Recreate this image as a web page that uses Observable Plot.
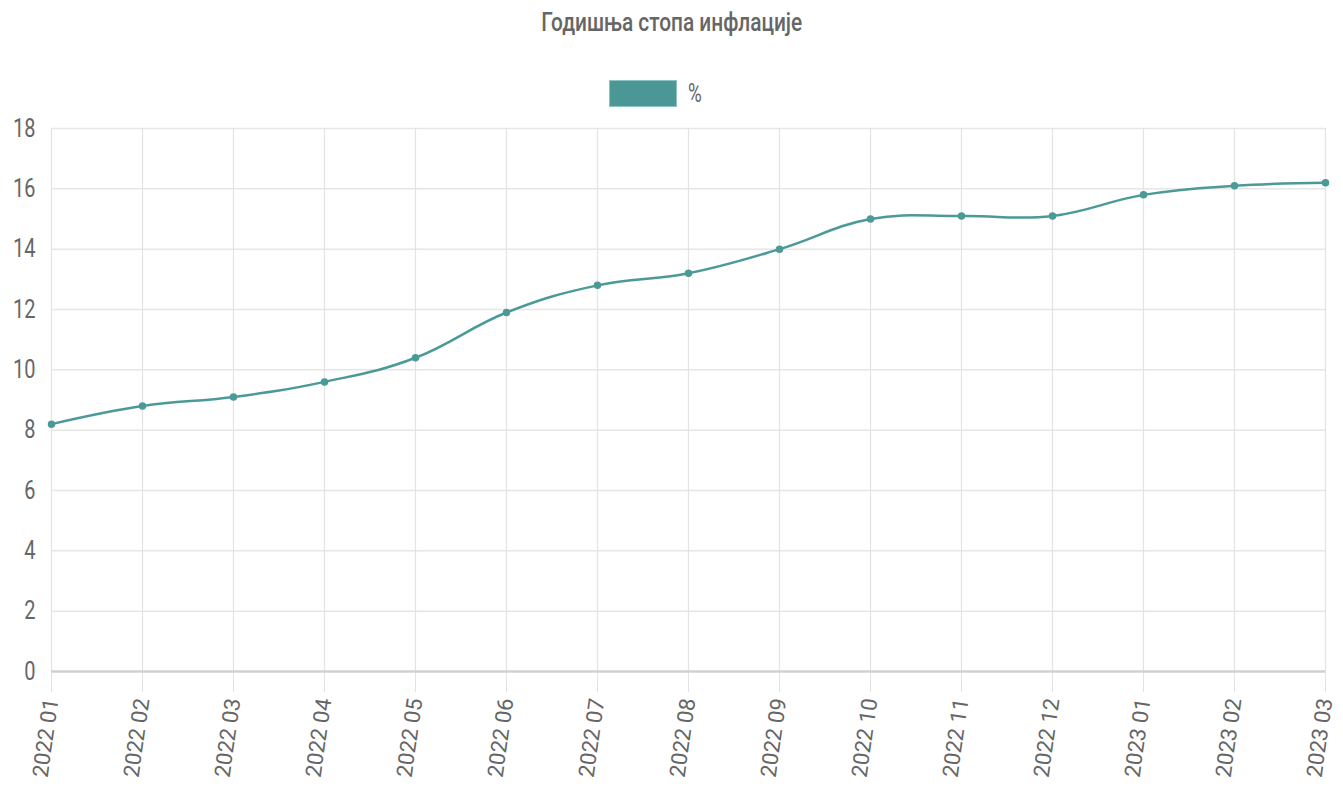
<!DOCTYPE html>
<html>
<head>
<meta charset="utf-8">
<script src="https://cdn.jsdelivr.net/npm/d3@7"></script>
<script src="https://cdn.jsdelivr.net/npm/@observablehq/plot@0.6"></script>
<style>
  html, body { margin: 0; padding: 0; background: #fff; }
  #wrap { position: relative; width: 1343px; height: 787px; overflow: hidden; }
  #title { position: absolute; left: 0; top: 6px; width: 1343px; text-align: center;
    font-family: "Roboto", sans-serif; font-weight: 500;
    font-size: 26px; color: #666; line-height: 32px; }
  #title span { display: inline-block; transform: scaleX(0.8); transform-origin: 50% 50%; white-space: nowrap; }
  #legend { position: absolute; left: 609px; top: 80px; height: 27px; display: flex; align-items: center;
    font-family: "Roboto", sans-serif; font-size: 25px; color: #666; }
  #legend .box { width: 66px; height: 25px; background: #4b9796; border: 1px solid #8fc4c2; margin-right: 11px; }
  #legend span { display: inline-block; transform: scaleX(0.75); transform-origin: 0 50%; }
  #chart { position: absolute; left: 0; top: 100px; }
</style>
</head>
<body>
<div id="wrap">
  <div id="title"><span id="titleText"></span></div>
  <div id="legend"><div class="box"></div><span id="legendLabel"></span></div>
  <div id="chart"></div>
</div>
<script>
const title = "Годишња стопа инфлације";
const seriesName = "%";
const months = ["2022 01","2022 02","2022 03","2022 04","2022 05","2022 06","2022 07","2022 08","2022 09","2022 10","2022 11","2022 12","2023 01","2023 02","2023 03"];
const values = [8.2, 8.8, 9.1, 9.6, 10.4, 11.9, 12.8, 13.2, 14.0, 15.0, 15.1, 15.1, 15.8, 16.1, 16.2];
const yTicks = [0, 2, 4, 6, 8, 10, 12, 14, 16, 18];

document.getElementById("titleText").textContent = title;
document.getElementById("legendLabel").textContent = seriesName;

// fit the title to the reference's condensed width
const ts = document.getElementById("titleText");
const w = ts.getBoundingClientRect().width / 0.8;
ts.style.transform = `scaleX(${261 / w})`;

const data = months.map((m, i) => ({month: m, value: values[i]}));
const color = "#4b9a98";

const chart = Plot.plot({
  width: 1343,
  height: 687,
  marginTop: 28,
  marginBottom: 116,
  marginLeft: 51,
  marginRight: 18,
  style: {background: "transparent", overflow: "visible"},
  x: {type: "point", domain: months, padding: 0, label: null},
  y: {domain: [0, 18], label: null},
  marks: [
    Plot.gridY(yTicks.filter(d => d !== 0), {stroke: "#e6e6e6", strokeOpacity: 1, strokeWidth: 1.5}),
    Plot.ruleX(months, {y1: 0, y2: 18, stroke: "#e3e3e3", strokeWidth: 1.2}),
    Plot.axisX(months, {tickSize: 21, stroke: "#e3e3e3", tickPadding: 6, tickRotate: -82,
      fontSize: 22, fontFamily: "Roboto, sans-serif", fill: "#666", label: null}),
    Plot.axisY(yTicks, {tickSize: 0, tickPadding: 16, fontSize: 25,
      fontFamily: "Roboto, sans-serif", fill: "#666", label: null}),
    Plot.ruleY([0], {stroke: "#d0d0d0", strokeWidth: 2.5}),
    Plot.line(data, {x: "month", y: "value", stroke: color, strokeWidth: 2.5, curve: "cardinal", tension: -0.2}),
    Plot.dot(data, {x: "month", y: "value", r: 3, fill: color, stroke: color})
  ]
});
document.getElementById("chart").appendChild(chart);

// condense the y tick labels horizontally, anchored at their right edge
chart.querySelectorAll('g[aria-label="y-axis tick label"] text').forEach(t => {
  const b = t.getBBox();
  const r = b.x + b.width;
  const prev = t.getAttribute("transform") || "";
  t.setAttribute("transform", `${prev} translate(${r},0) scale(0.8,1) translate(${-r},0)`);
});
</script>
</body>
</html>
